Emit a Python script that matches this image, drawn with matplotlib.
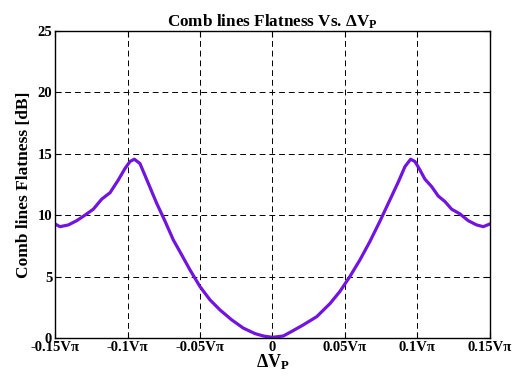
import matplotlib
matplotlib.use("Agg")
import matplotlib.pyplot as plt

# curve (delta V in units of V_pi, flatness in dB)
dv = [-0.150, -0.1466, -0.1408, -0.135, -0.1293, -0.1236, -0.1178, -0.112,
      -0.1063, -0.1017, -0.0983, -0.0953, -0.0914, -0.0857, -0.0799, -0.0741,
      -0.0684, -0.0626, -0.0569, -0.050, -0.0431, -0.0362, -0.0281, -0.0201,
      -0.012, -0.006, 0.0,
      0.0075, 0.0143, 0.0212, 0.0305, 0.0397, 0.0466, 0.0534, 0.0603, 0.0672,
      0.0741, 0.081, 0.0868, 0.0914, 0.0953, 0.0983, 0.1017, 0.1052, 0.1098,
      0.1143, 0.119, 0.1236, 0.1293, 0.135, 0.1408, 0.1454, 0.150]
flat = [9.28, 9.06, 9.2, 9.55, 10.0, 10.48, 11.3, 11.83,
        12.87, 13.8, 14.36, 14.55, 14.2, 12.6, 10.97, 9.5,
        7.98, 6.76, 5.54, 4.18, 3.1, 2.28, 1.47, 0.8,
        0.35, 0.15, 0.05,
        0.16, 0.6, 1.06, 1.73, 2.8, 3.8, 5.0, 6.35, 7.85,
        9.5, 11.24, 12.7, 13.95, 14.55, 14.36, 13.68, 12.92, 12.32,
        11.56, 11.1, 10.48, 10.1, 9.55, 9.2, 9.06, 9.28]

xticks = [-0.15, -0.1, -0.05, 0, 0.05, 0.1, 0.15]
xticklabels = ["-0.15V\u03c0", "-0.1V\u03c0", "-0.05V\u03c0", "0",
               "0.05V\u03c0", "0.1V\u03c0", "0.15V\u03c0"]
yticks = [0, 5, 10, 15, 20, 25]

plt.rcParams["font.family"] = "Liberation Serif"
plt.rcParams["font.weight"] = "bold"
plt.rcParams["mathtext.fontset"] = "custom"
plt.rcParams["mathtext.rm"] = "Liberation Serif:bold"
plt.rcParams["mathtext.it"] = "Liberation Serif:bold"
plt.rcParams["mathtext.bf"] = "Liberation Serif:bold"

fig = plt.figure(figsize=(5.19, 3.81), dpi=100)
ax = fig.add_axes([0.106, 0.113, 0.838, 0.806])

ax.plot(dv, flat, color="#7214e0", linewidth=2.3,
        solid_capstyle="round", solid_joinstyle="round")

ax.set_xlim(-0.15, 0.15)
ax.set_ylim(0, 25)
ax.set_xticks(xticks)
ax.set_xticklabels(xticklabels)
ax.set_yticks(yticks)
ax.tick_params(direction="in", length=4, width=0.8, labelsize=10.5,
               top=True, right=True, pad=2)
for lbl in ax.get_xticklabels() + ax.get_yticklabels():
    lbl.set_fontweight("bold")

ax.grid(True, color="black", linestyle=(0, (6, 4)), linewidth=0.7)
for s in ax.spines.values():
    s.set_linewidth(1.0)

ax.set_title(r"Comb lines Flatness Vs. $\Delta\mathrm{V}_\mathrm{P}$",
             fontsize=12.3, fontweight="bold", pad=3)
ax.set_xlabel(r"$\Delta\mathrm{V}_\mathrm{P}$", fontsize=13, labelpad=-1)
ax.set_ylabel("Comb lines Flatness [dB]", fontsize=12.5, fontweight="bold",
              labelpad=4)

fig.savefig("out.png", dpi=100)
